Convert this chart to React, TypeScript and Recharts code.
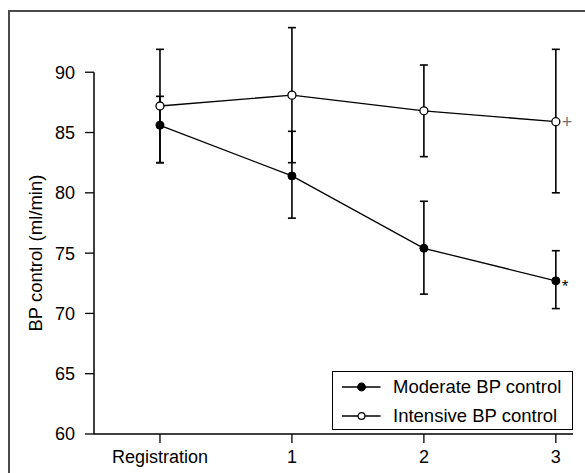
import React from 'react';
import { LineChart, Line, XAxis, YAxis, ErrorBar, ReferenceLine, Legend, LabelList } from 'recharts';

const categories = ['Registration', '1', '2', '3'];
const seriesNames = ['Moderate BP control', 'Intensive BP control'];
const moderate = [85.6, 81.4, 75.4, 72.7];
const moderateErr: [number, number][] = [[3.1, 2.4], [3.5, 3.7], [3.8, 3.9], [2.3, 2.5]];
const intensive = [87.2, 88.1, 86.8, 85.9];
const intensiveErr: [number, number][] = [[4.7, 4.7], [5.6, 5.6], [3.8, 3.8], [5.9, 6.0]];
const moderateNotes = ['', '', '', '*'];
const intensiveNotes = ['', '', '', '+'];
const yTicks = [60, 65, 70, 75, 80, 85, 90];
const xTicks = [0, 1, 2, 3];
const Y_MIN = 60;
const Y_MAX = 94;
const AXIS_TOP = 90;

const FONT = '"Liberation Sans", Arial, Helvetica, sans-serif';

const data = categories.map((c, i) => ({
  x: i,
  name: c,
  moderate: moderate[i],
  modErr: moderateErr[i],
  intensive: intensive[i],
  intErr: intensiveErr[i],
  modNote: moderateNotes[i],
  intNote: intensiveNotes[i],
}));

const renderYLabel = (p: any) => {
  const vb = p.viewBox || { x: 0, y: 0, width: 0, height: 0 };
  const cy = vb.y + (vb.height * (Y_MAX - (Y_MIN + AXIS_TOP) / 2)) / (Y_MAX - Y_MIN);
  const cx = 42;
  return (
    <text
      x={cx}
      y={cy}
      transform={`rotate(-90, ${cx}, ${cy})`}
      textAnchor="middle"
      fontSize={18.5}
      fontFamily={FONT}
      fill="#000"
    >
      BP control (ml/min)
    </text>
  );
};

const renderModNote = (p: any) => {
  const x = p.viewBox?.x ?? p.x;
  const y = p.viewBox?.y ?? p.y;
  if (!p.value) return null;
  return (
    <text x={x + 6} y={y + 11} fontSize={17} fontFamily={FONT} fill="#000">
      {p.value}
    </text>
  );
};

const renderIntNote = (p: any) => {
  const x = p.viewBox?.x ?? p.x;
  const y = p.viewBox?.y ?? p.y;
  if (!p.value) return null;
  return (
    <text x={x + 6} y={y} dy="0.35em" fontSize={18} fontFamily={FONT} fill="#707070">
      {p.value}
    </text>
  );
};

const renderLegend = (props: any) => {
  const payload = [...(props.payload || [])].sort(
    (a: any, b: any) => seriesNames.indexOf(a.value) - seriesNames.indexOf(b.value)
  );
  return (
    <div
      style={{
        width: 241,
        height: 59,
        border: '1.3px solid #000',
        boxSizing: 'border-box',
        background: '#fff',
        fontFamily: FONT,
        fontSize: 18.5,
        color: '#000',
        paddingTop: 1,
      }}
    >
      {payload.map((entry: any, i: number) => {
        const filled = entry.value === seriesNames[0];
        return (
          <div key={i} style={{ display: 'flex', alignItems: 'center', height: 28.5, marginLeft: 9 }}>
            <svg width={39} height={12} style={{ display: 'block' }}>
              <line x1={0} y1={6} x2={38.5} y2={6} stroke="#000" strokeWidth={1.3} />
              <circle
                cx={19.5}
                cy={6}
                r={filled ? 3.8 : 3.4}
                fill={filled ? '#000' : '#fff'}
                stroke="#000"
                strokeWidth={1.2}
              />
            </svg>
            <span style={{ marginLeft: 12, lineHeight: 1 }}>{entry.value}</span>
          </div>
        );
      })}
    </div>
  );
};

export default function App() {
  return (
    <div style={{ position: 'absolute', left: 0, top: 0, width: 585, height: 473, overflow: 'hidden', background: '#fff' }}>
      <div
        style={{
          position: 'absolute',
          left: 8,
          top: 10,
          width: 700,
          height: 600,
          borderLeft: '2px solid #4a4a4a',
          borderTop: '2px solid #4a4a4a',
        }}
      />
      <div style={{ position: 'absolute', left: 0, top: 0 }}>
        <LineChart width={585} height={473} data={data} margin={{ top: 24, right: 12, bottom: 9, left: 0 }}>
          <XAxis
            dataKey="x"
            type="number"
            domain={[-0.5, 3.13]}
            ticks={xTicks}
            interval={0}
            tickFormatter={(v: number) => categories[v]}
            height={30}
            tickSize={9}
            tickMargin={7}
            axisLine={{ stroke: '#000', strokeWidth: 1.5 }}
            tickLine={{ stroke: '#000', strokeWidth: 1.3 }}
            tick={{ fontSize: 18, fill: '#000', fontFamily: FONT }}
          />
          <YAxis
            type="number"
            domain={[Y_MIN, Y_MAX]}
            ticks={yTicks}
            interval={0}
            width={94}
            axisLine={false}
            tickSize={9}
            tickMargin={10}
            tickLine={{ stroke: '#000', strokeWidth: 1.3 }}
            tick={{ fontSize: 18, fill: '#000', fontFamily: FONT }}
            label={{ value: 'BP control (ml/min)', content: renderYLabel }}
          />
          <ReferenceLine
            segment={[{ x: -0.5, y: Y_MIN }, { x: -0.5, y: AXIS_TOP }]}
            stroke="#000"
            strokeWidth={1.5}
            ifOverflow="visible"
          />
          <Legend
            layout="vertical"
            align="center"
            verticalAlign="middle"
            content={renderLegend}
            wrapperStyle={{ position: 'absolute', left: 332, top: 371, width: 241, height: 59 }}
          />
          <Line
            name={seriesNames[0]}
            type="linear"
            dataKey="moderate"
            stroke="#000"
            strokeWidth={1.3}
            dot={{ r: 4, fill: '#000', stroke: '#000', strokeWidth: 1 }}
            activeDot={false}
            isAnimationActive={false}
          >
            <ErrorBar dataKey="modErr" width={4} stroke="#000" strokeWidth={1.6} direction="y" />
            <LabelList dataKey="modNote" content={renderModNote} />
          </Line>
          <Line
            name={seriesNames[1]}
            type="linear"
            dataKey="intensive"
            stroke="#000"
            strokeWidth={1.3}
            dot={{ r: 4, fill: '#fff', stroke: '#000', strokeWidth: 1.3 }}
            activeDot={false}
            isAnimationActive={false}
          >
            <ErrorBar dataKey="intErr" width={4} stroke="#000" strokeWidth={1.6} direction="y" />
            <LabelList dataKey="intNote" content={renderIntNote} />
          </Line>
        </LineChart>
      </div>
    </div>
  );
}
